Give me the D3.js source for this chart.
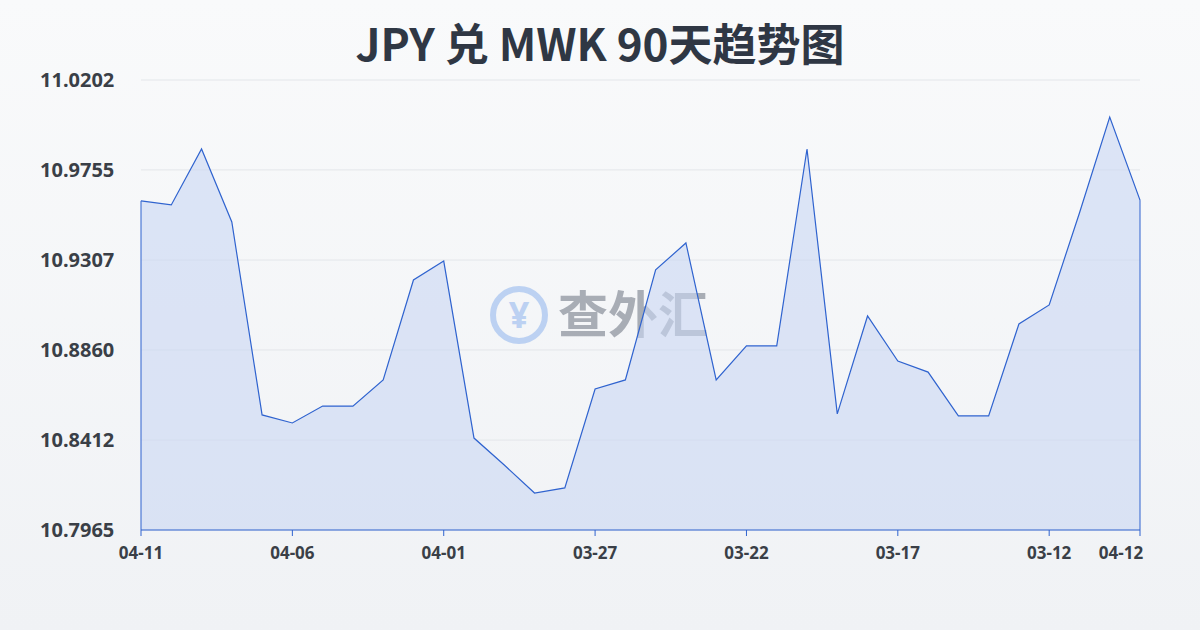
<!DOCTYPE html>
<html><head><meta charset="utf-8">
<script src="https://cdn.jsdelivr.net/npm/d3@7/dist/d3.min.js"></script>
<style>body{margin:0}svg{display:block}</style></head>
<body><svg id="c" width="1200" height="630"></svg>
<script>
const categories=["04-11","04-10","04-09","04-08","04-07","04-06","04-05","04-04","04-03","04-02","04-01","03-31","03-30","03-29","03-28","03-27","03-26","03-25","03-24","03-23","03-22","03-21","03-20","03-19","03-18","03-17","03-16","03-15","03-14","03-13","03-12","03-11","03-10","04-12"];
const values=[10.9601,10.9581,10.9859,10.9496,10.8537,10.8497,10.8581,10.8581,10.8711,10.9208,10.9302,10.8422,10.8288,10.8149,10.8174,10.8666,10.8711,10.9258,10.9392,10.8711,10.8880,10.8880,10.9859,10.8542,10.9029,10.8805,10.8750,10.8532,10.8532,10.8989,10.9084,10.9541,11.0018,10.9605];
const yTicks=[10.7965,10.8412,10.8860,10.9307,10.9755,11.0202];
const xTickIdx=[0,5,10,15,20,25,30,33];
const title="JPY 兑 MWK 90天趋势图";
const svg=d3.select("#c");
const defs=svg.append("defs");
const g=defs.append("linearGradient").attr("id","bg").attr("x1",0).attr("y1",0).attr("x2",0).attr("y2",1);
g.append("stop").attr("offset",0).attr("stop-color","#f9fafb");
g.append("stop").attr("offset",1).attr("stop-color","#f0f2f5");
svg.append("rect").attr("width",1200).attr("height",630).attr("fill","url(#bg)");
const x=d3.scaleLinear().domain([0,categories.length-1]).range([141,1140]);
const y=d3.scaleLinear().domain([10.7965,11.0202]).range([530,80]);
svg.append("g").selectAll("line").data(yTicks).join("line")
 .attr("x1",141).attr("x2",1140).attr("y1",d=>y(d)).attr("y2",d=>y(d)).attr("stroke","#e3e6ea").attr("stroke-width",1);
svg.append("g").selectAll("text").data(yTicks).join("text")
 .attr("x",40).attr("y",d=>y(d)+7).text(d=>d.toFixed(4))
 .attr("font-family","Noto Sans, sans-serif").attr("font-weight","bold").attr("font-size",20).attr("fill","#3a3f47");
const wm=svg.append("g").attr("opacity",0.55);
wm.append("circle").attr("cx",519).attr("cy",315).attr("r",26).attr("fill","none").attr("stroke","#8fb4ee").attr("stroke-width",6);
wm.append("text").attr("x",519).attr("y",328).attr("text-anchor","middle").text("¥").attr("font-size",36).attr("font-weight","bold").attr("fill","#8fb4ee").attr("font-family","Noto Sans");
wm.append("text").attr("x",558).attr("y",333).text("查外汇").attr("font-size",50).attr("font-weight","bold").attr("fill","#6b7280").attr("font-family","Noto Sans CJK SC");
const area=d3.area().x((d,i)=>x(i)).y0(530).y1(d=>y(d));
const line=d3.line().x((d,i)=>x(i)).y(d=>y(d));
svg.append("path").datum(values).attr("d",area).attr("fill","#c9d7f3").attr("fill-opacity",0.6);
svg.append("path").datum(values).attr("d",line).attr("fill","none").attr("stroke","#2f63cf").attr("stroke-width",1.2);
svg.append("line").attr("x1",141).attr("x2",141).attr("y1",y(values[0])).attr("y2",530).attr("stroke","#2f63cf");
svg.append("line").attr("x1",1140).attr("x2",1140).attr("y1",y(values[33])).attr("y2",530).attr("stroke","#2f63cf");
svg.append("line").attr("x1",141).attr("x2",1140).attr("y1",530).attr("y2",530).attr("stroke","#2f63cf");
const xt=svg.append("g");
xTickIdx.forEach(i=>{
 const px=x(i);
 xt.append("line").attr("x1",px).attr("x2",px).attr("y1",530).attr("y2",536).attr("stroke","#2f63cf");
 xt.append("text").attr("x",i===33?1121:px).attr("y",559).attr("text-anchor","middle").text(categories[i])
  .attr("font-family","Noto Sans, sans-serif").attr("font-weight","bold").attr("font-size",17).attr("fill","#3a3f47");
});
svg.append("text").attr("x",600).attr("y",61).attr("text-anchor","middle").text(title)
 .attr("font-family","Noto Sans CJK SC, Noto Sans").attr("font-weight","bold").attr("font-size",44).attr("fill","#2f3744");
</script></body></html>
